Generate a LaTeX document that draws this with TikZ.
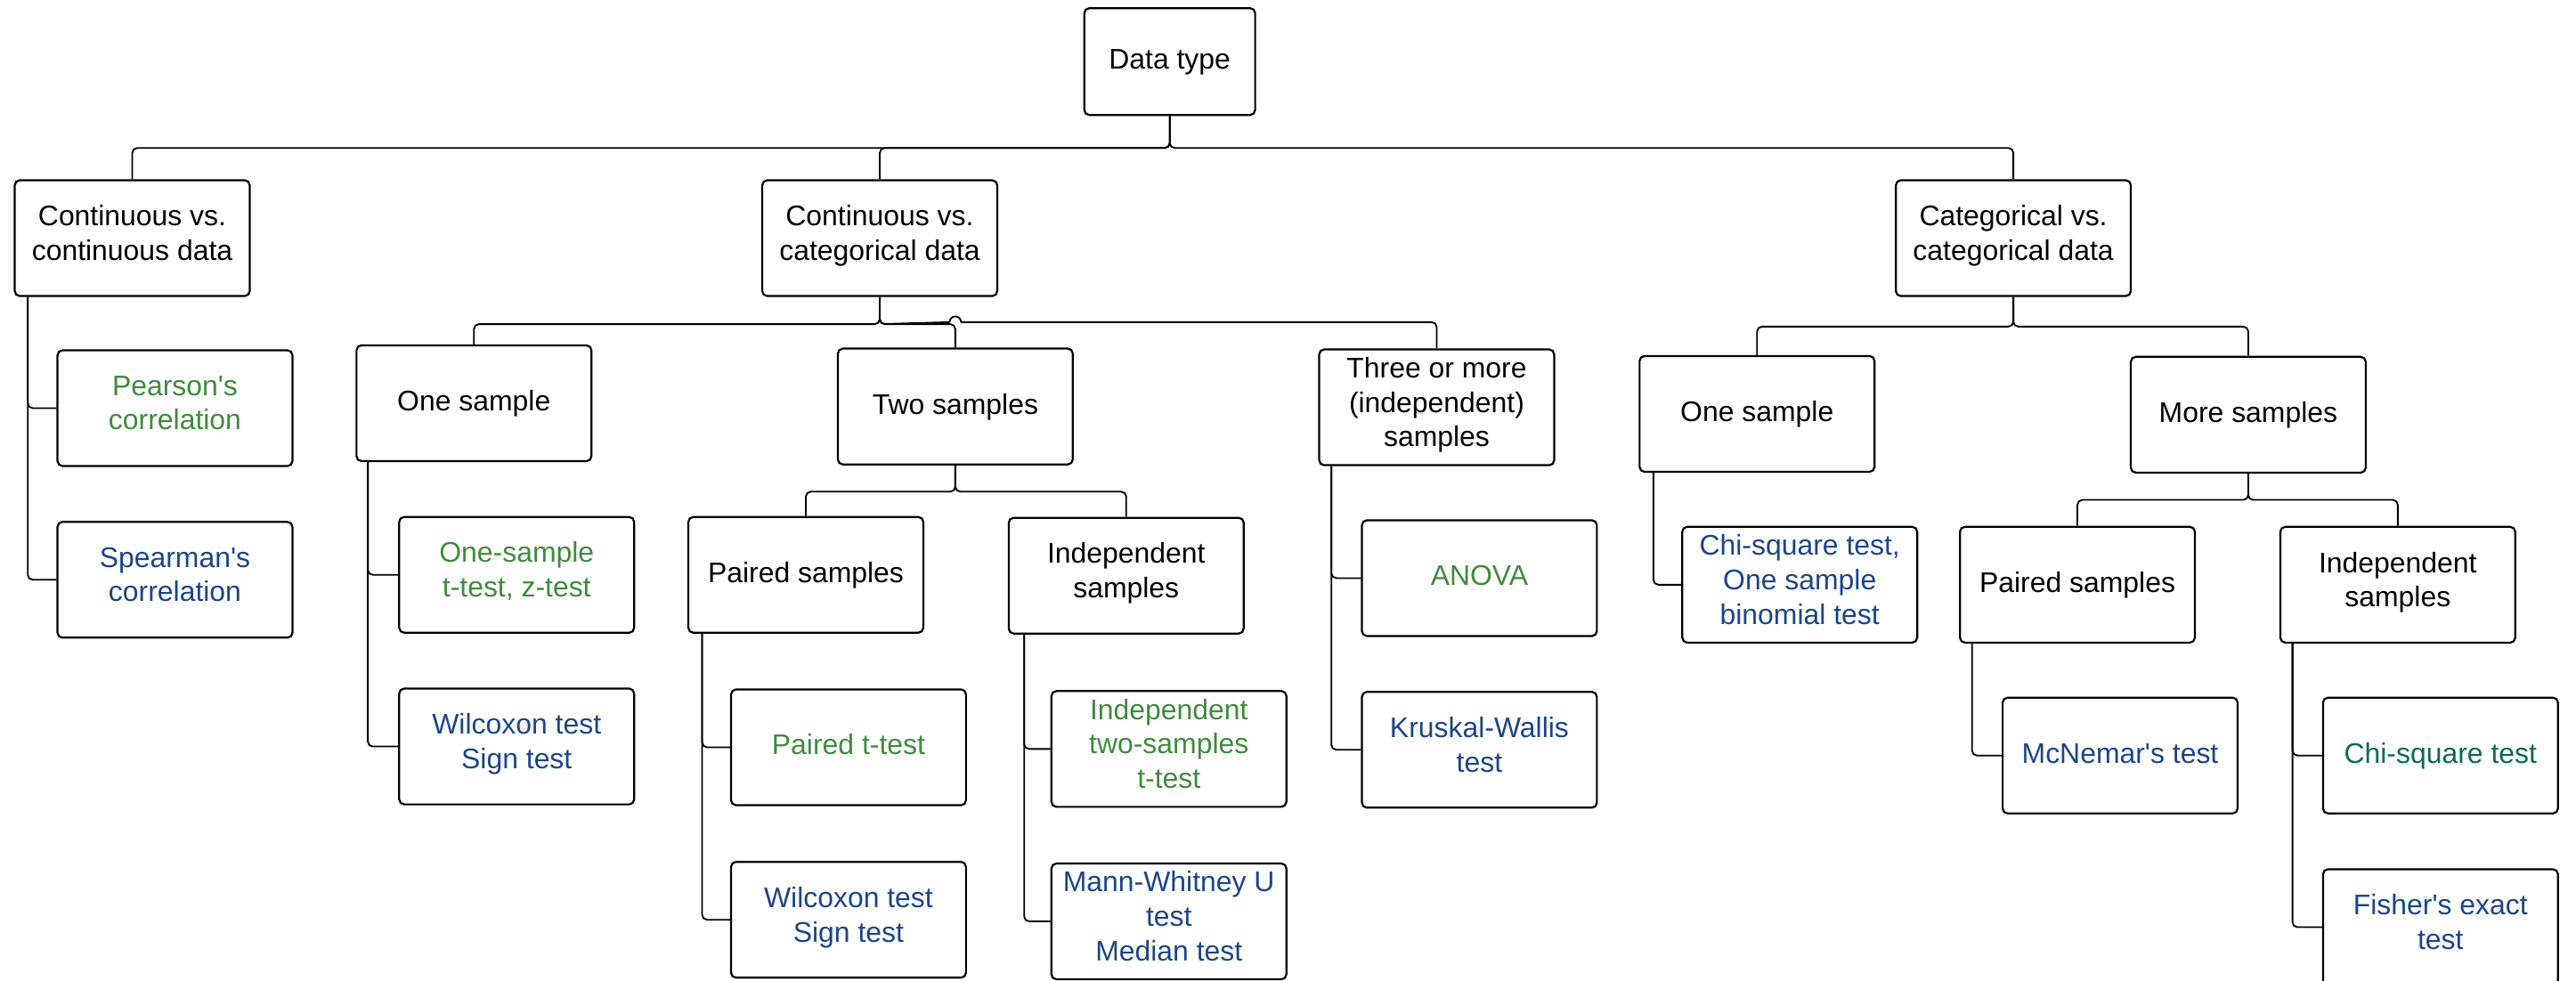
\documentclass[tikz,border=0pt]{standalone}
\usepackage{fontspec}
\setmainfont{Liberation Sans}
\usetikzlibrary{calc}
\definecolor{tgreen}{HTML}{3F8B3D}
\definecolor{tblue}{HTML}{1C4587}
\definecolor{tteal}{HTML}{0B6B50}
\newcommand\ap{\textquotesingle}
\tikzset{
  box/.style={draw=black, line width=1.2bp, rounded corners=3bp, fill=white,
    minimum width=143bp, minimum height=70.5bp, inner sep=0pt, align=center,
    font=\fontsize{17.3bp}{21bp}\selectfont,
    execute at begin node={\rule{0pt}{15.7bp}},
    execute at end node={\rule[-6.5bp]{0pt}{6.5bp}}},
  conn/.style={draw=black, line width=1bp, rounded corners=3bp},
  gtext/.style={text=tgreen},
  btext/.style={text=tblue},
  ttext/.style={text=tteal},
}
\begin{document}
\begin{tikzpicture}[x=1bp, y=-1bp]
\useasboundingbox (0,0) rectangle (1568,597);
\clip (0,0) rectangle (1568,597);
\fill[white] (0,0) rectangle (1568,597);

% level 0
\node[box, minimum width=104bp, minimum height=65bp] (dt) at (712,37.5) {Data type};
% level 1
\node[box] (cc) at (80.5,145) {Continuous vs.\\continuous data};
\node[box] (ck) at (535.5,145) {Continuous vs.\\categorical data};
\node[box] (kk) at (1225.5,145) {Categorical vs.\\categorical data};
% cont-cont tests
\node[box, gtext] (pear) at (106.5,248.5) {Pearson\ap s\\correlation};
\node[box, btext] (spear) at (106.5,353) {Spearman\ap s\\correlation};
% cont-cat level 2
\node[box] (os1) at (288.5,245.5) {One sample};
\node[box] (ts) at (581.5,247.5) {Two samples};
\node[box] (tm) at (874.5,248) {Three or more\\(independent)\\samples};
% one sample tests
\node[box, gtext] (ost) at (314.5,350) {One-sample\\t-test, z-test};
\node[box, btext] (wil1) at (314.5,454.5) {Wilcoxon test\\Sign test};
% two samples level 3
\node[box] (ps1) at (490.5,350) {Paired samples};
\node[box] (is1) at (685.5,350.5) {Independent\\samples};
\node[box, gtext] (pt) at (516.5,455) {Paired t-test};
\node[box, btext] (wil2) at (516.5,560) {Wilcoxon test\\Sign test};
\node[box, gtext] (it) at (711.5,456) {Independent\\two-samples\\t-test};
\node[box, btext] (mw) at (711.5,561) {Mann-Whitney U\\test\\Median test};
% three or more tests
\node[box, gtext] (anova) at (900.5,352) {ANOVA};
\node[box, btext] (kw) at (900.5,456.5) {Kruskal-Wallis\\test};
% cat-cat level 2
\node[box] (os2) at (1069.5,252) {One sample};
\node[box] (ms) at (1368.5,252.5) {More samples};
\node[box, btext] (chi1) at (1095.5,356) {Chi-square test,\\One sample\\binomial test};
\node[box] (ps2) at (1264.5,356) {Paired samples};
\node[box] (is2) at (1459.5,356) {Independent\\samples};
\node[box, btext] (mcn) at (1290.5,460) {McNemar\ap s test};
\node[box, ttext] (chi2) at (1485.5,460) {Chi-square test};
\node[box, btext] (fis) at (1485.5,564.5) {Fisher\ap s exact\\test};

% ---- connectors: tree buses
\draw[conn] (dt.south) -- ++(0,19.5) -| (cc.north);
\draw[conn] (dt.south) -- ++(0,19.5) -| (ck.north);
\draw[conn] (dt.south) -- ++(0,19.5) -| (kk.north);

\draw[conn] (ck.south) -- ++(0,16.5) -| (os1.north);
\draw[conn] (ck.south) -- ++(0,16.5) -| (ts.north);
\coordinate (hopL) at ($(ts.north)+(-3.5,-15.5)$);
\coordinate (hopR) at ($(ts.north)+(3.5,-15.5)$);
\draw[conn] (ck.south) -- ++(0,16.5) -- (hopL);
\draw[line width=1bp] (hopL) arc (180:360:3.5);
\draw[conn] (hopR) -| (tm.north);

\draw[conn] (ts.south) -- ++(0,16) -| (ps1.north);
\draw[conn] (ts.south) -- ++(0,16) -| (is1.north);

\draw[conn] (kk.south) -- ++(0,18) -| (os2.north);
\draw[conn] (kk.south) -- ++(0,18) -| (ms.north);

\draw[conn] (ms.south) -- ++(0,16) -| (ps2.north);
\draw[conn] (ms.south) -- ++(0,16) -| (is2.north);

% ---- connectors: side branches
\draw[conn] ([xshift=8.5bp]cc.south west) |- (pear.west);
\draw[conn] ([xshift=8.5bp]cc.south west) |- (spear.west);
\draw[conn] ([xshift=7.5bp]os1.south west) |- (ost.west);
\draw[conn] ([xshift=7.5bp]os1.south west) |- (wil1.west);
\draw[conn] ([xshift=9bp]ps1.south west) |- (pt.west);
\draw[conn] ([xshift=9bp]ps1.south west) |- (wil2.west);
\draw[conn] ([xshift=10bp]is1.south west) |- (it.west);
\draw[conn] ([xshift=10bp]is1.south west) |- (mw.west);
\draw[conn] ([xshift=8bp]tm.south west) |- (anova.west);
\draw[conn] ([xshift=8bp]tm.south west) |- (kw.west);
\draw[conn] ([xshift=9bp]os2.south west) |- (chi1.west);
\draw[conn] ([xshift=8bp]ps2.south west) |- (mcn.west);
\draw[conn] ([xshift=8bp]is2.south west) |- (chi2.west);
\draw[conn] ([xshift=8bp]is2.south west) |- (fis.west);
\end{tikzpicture}
\end{document}
